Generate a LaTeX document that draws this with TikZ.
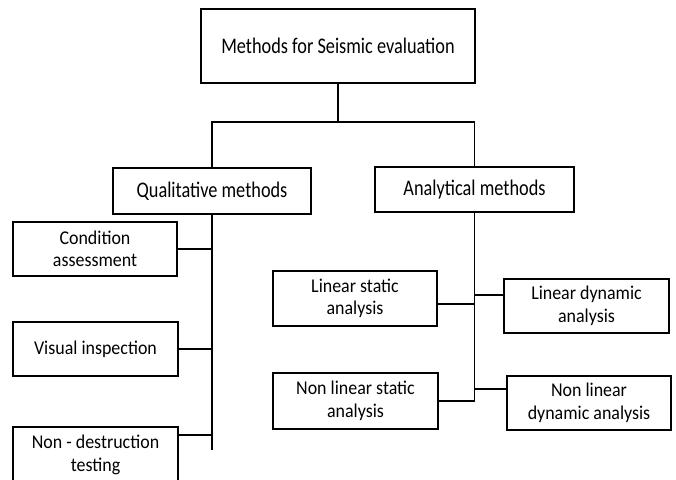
\documentclass[tikz,border=0pt]{standalone}
\usepackage{fontspec}
\setmainfont{Carlito}[FakeStretch=0.92]
\newfontfamily\headfont{Carlito}[FakeStretch=0.82]
\usepackage{tikz}
\usetikzlibrary{positioning,calc}

\begin{document}
\begin{tikzpicture}[x=1pt,y=-1pt,line width=1.6pt,
    methodbox/.style={draw, align=center, inner sep=2pt,
        minimum width=165pt, minimum height=54pt,
        font=\fontsize{19.5}{22.5}\selectfont},
    headbox/.style={draw, align=center, inner sep=2pt,
        font=\headfont\fontsize{22.3}{26}\selectfont}]
    \clip (0,0) rectangle (676,479);
    % Top level
    \node[headbox, minimum width=274pt, minimum height=74pt] (top) at (338,46) {Methods for Seismic evaluation};
    \node[headbox, minimum width=198pt, minimum height=46pt] (qual) at (212,191) {Qualitative methods};
    \node[headbox, minimum width=199pt, minimum height=45pt] (anal) at (474.5,189.5) {Analytical methods};
    \coordinate (hub) at (338,122);
    \draw (top.south) -- (hub);
    \draw (qual.north) |- (hub) -| (anal.north);
    % Qualitative branch
    \node[methodbox, minimum width=164pt] (cond) at (95,249) {Condition\\assessment};
    \node[methodbox] (vis) at (95.5,349) {Visual inspection};
    \node[methodbox, minimum height=56pt] (ndt) at (95.5,455) {Non - destruction\\testing};
    \coordinate (qend) at (212,450);
    \draw (qual.south) -- (qend);
    \draw (cond.east) -- (cond.east -| qend);
    \draw (vis.east) -- (vis.east -| qend);
    \draw ([yshift=20pt]ndt.east) -- ([yshift=20pt]ndt.east -| qend);
    % Analytical branch
    \node[methodbox, minimum width=164pt, minimum height=55pt] (lsa) at (355,298.5) {Linear static\\analysis};
    \node[methodbox] (lda) at (586.5,306) {Linear dynamic\\analysis};
    \node[methodbox, minimum height=56pt] (nlsa) at (355.5,401) {Non linear static\\analysis};
    \node[methodbox, minimum width=164pt] (nlda) at (589,403) {Non linear\\dynamic analysis};
    \coordinate (aend) at (anal.south |- nlsa.east);
    \draw (anal.south) -- (aend) -- (nlsa.east);
    \draw ([yshift=-5.5pt]lsa.east) -- ([yshift=-5.5pt]lsa.east -| aend);
    \draw ([yshift=11pt]lda.west) -- ([yshift=11pt]lda.west -| aend);
    \draw ([yshift=14pt]nlda.west) -- ([yshift=14pt]nlda.west -| aend);
\end{tikzpicture}
\end{document}
